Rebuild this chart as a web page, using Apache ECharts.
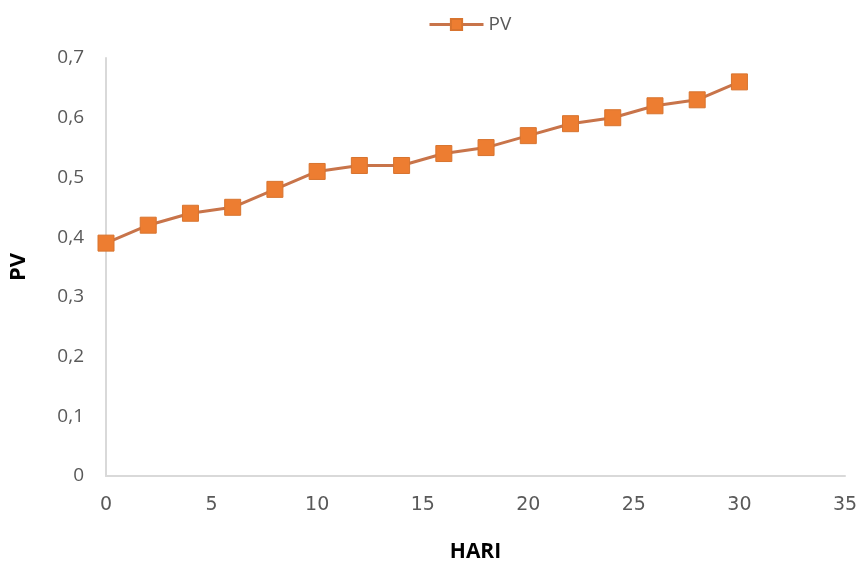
<!DOCTYPE html>
<html><head><meta charset="utf-8">
<script src="https://cdn.jsdelivr.net/npm/echarts@6/dist/echarts.min.js"></script>
<style>html,body{margin:0;padding:0;background:#fff}#c{width:864px;height:568px}</style>
</head><body><div id="c"></div>
<script>
var hari = [0, 2, 4, 6, 8, 10, 12, 14, 16, 18, 20, 22, 24, 26, 28, 30];
var pv = [0.39, 0.42, 0.44, 0.45, 0.48, 0.51, 0.52, 0.52, 0.54, 0.55, 0.57, 0.59, 0.60, 0.62, 0.63, 0.66];
var seriesName = 'PV';
var xTitle = 'HARI';
var yTitle = 'PV';

var chart = echarts.init(document.getElementById('c'));
chart.setOption({
  animation: false,
  legend: {
    top: 10, left: 423,
    itemWidth: 54, itemHeight: 14, itemGap: 6,
    lineStyle: {width: 3},
    textStyle: {color: '#595959', fontSize: 19, fontFamily: 'Open Sans'},
    data: [seriesName]
  },
  grid: {left: 105, right: 19, top: 58, bottom: 90, containLabel: false},
  xAxis: {
    type: 'value', min: 0, max: 35, interval: 5,
    name: xTitle, nameLocation: 'middle', nameGap: 66,
    nameTextStyle: {fontSize: 21, fontWeight: 'bold', color: '#000', fontFamily: 'Open Sans'},
    axisLine: {lineStyle: {color: '#d9d9d9', width: 2}},
    axisTick: {show: false},
    splitLine: {show: false},
    axisLabel: {color: '#595959', fontSize: 19, margin: 20, fontFamily: 'DejaVu Sans'}
  },
  yAxis: {
    type: 'value', min: 0, max: 0.7, interval: 0.1,
    name: yTitle, nameLocation: 'middle', nameGap: 76,
    nameTextStyle: {fontSize: 22, fontWeight: 'bold', color: '#000', fontFamily: 'Open Sans'},
    axisLine: {show: true, lineStyle: {color: '#d9d9d9', width: 2}},
    axisTick: {show: false},
    splitLine: {show: false},
    axisLabel: {color: '#595959', fontSize: 19, margin: 22, fontFamily: 'Open Sans',
      formatter: function (v) { return String(Math.round(v * 10) / 10).replace('.', ','); }}
  },
  series: [{
    name: seriesName, type: 'line',
    data: hari.map(function (h, i) { return [h, pv[i]]; }),
    symbol: 'rect', symbolSize: 16,
    lineStyle: {color: '#c8744a', width: 3},
    itemStyle: {color: '#ED7D31', borderColor: '#d8742f', borderWidth: 1}
  }]
});
</script></body></html>
